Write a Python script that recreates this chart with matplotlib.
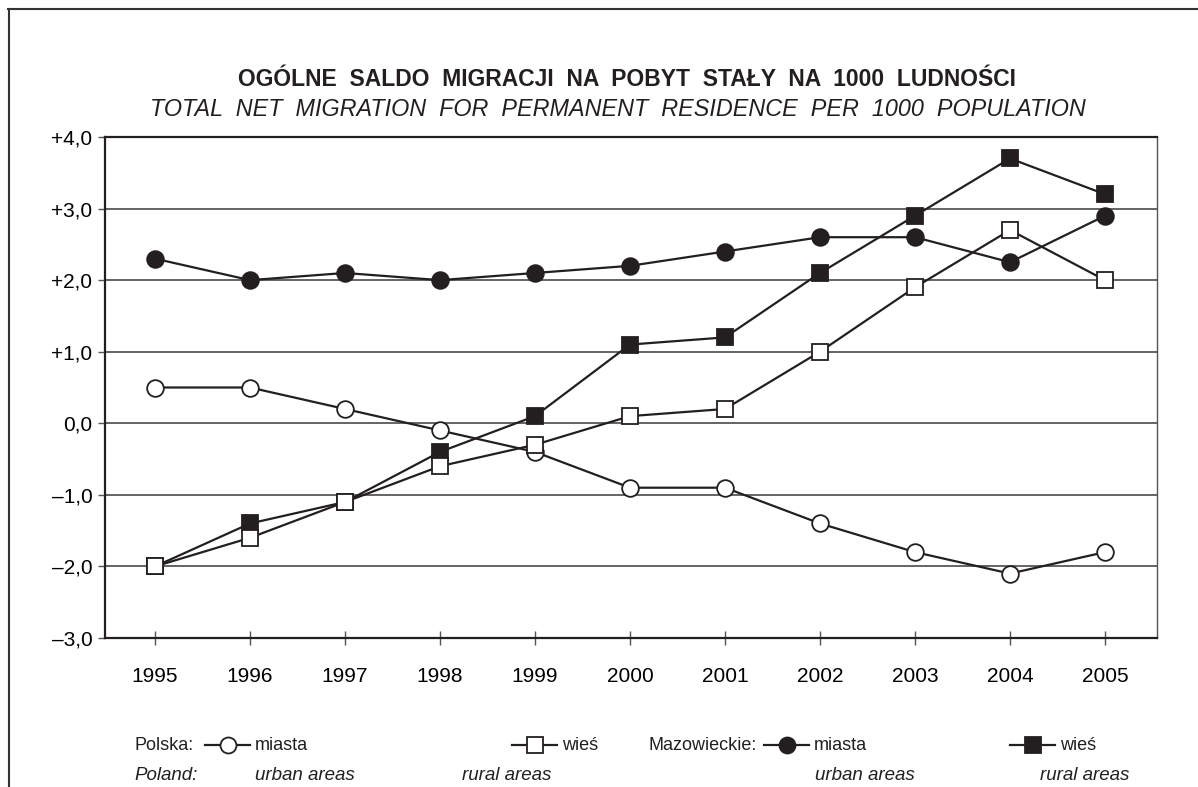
import matplotlib
matplotlib.use("Agg")
import matplotlib.pyplot as plt
from matplotlib.lines import Line2D

plt.rcParams['font.family'] = ['Liberation Sans', 'DejaVu Sans']

years = [1995, 1996, 1997, 1998, 1999, 2000, 2001, 2002, 2003, 2004, 2005]
polska_miasta = [0.5, 0.5, 0.2, -0.1, -0.4, -0.9, -0.9, -1.4, -1.8, -2.1, -1.8]
polska_wies = [-2.0, -1.6, -1.1, -0.6, -0.3, 0.1, 0.2, 1.0, 1.9, 2.7, 2.0]
mazow_miasta = [2.3, 2.0, 2.1, 2.0, 2.1, 2.2, 2.4, 2.6, 2.6, 2.25, 2.9]
mazow_wies = [-2.0, -1.4, -1.1, -0.4, 0.1, 1.1, 1.2, 2.1, 2.9, 3.7, 3.2]
y_ticks = [-3, -2, -1, 0, 1, 2, 3, 4]
y_labels = ['\u20133,0', '\u20132,0', '\u20131,0', '0,0', '+1,0', '+2,0', '+3,0', '+4,0']

ink = '#231f20'
W, H = 1198, 787

fig = plt.figure(figsize=(W / 100, H / 100), dpi=100)
ax = fig.add_axes([105 / W, 1 - 638 / H, (1157 - 105) / W, (638 - 137) / H])

for y in y_ticks[1:-1]:
    ax.axhline(y, color='#4a4a4a', lw=1.2, zorder=1)

line_kw = dict(color=ink, lw=1.6, zorder=3)
ax.plot(years, polska_miasta, marker='o', ms=12, mfc='white', mec=ink, mew=1.3, **line_kw)
ax.plot(years, mazow_miasta, marker='o', ms=12, mfc=ink, mec=ink, mew=1.3, **line_kw)
ax.plot(years, mazow_wies, marker='s', ms=12, mfc=ink, mec=ink, mew=1.3, **line_kw)
ax.plot(years, polska_wies, marker='s', ms=12, mfc='white', mec=ink, mew=1.3, **line_kw)

ax.set_xlim(1994.474, 2005.547)
ax.set_ylim(-3, 4)
ax.set_yticks(y_ticks)
ax.set_yticklabels(y_labels, fontsize=15)
ax.set_xticks(years)
ax.set_xticklabels([str(y) for y in years], fontsize=15)
ax.tick_params(axis='y', direction='out', length=5, width=1, color='#555555', pad=4)
ax.tick_params(axis='x', direction='inout', length=10, width=1, color='#555555', pad=16)

for side in ['left', 'bottom', 'top']:
    ax.spines[side].set_linewidth(1.6)
    ax.spines[side].set_color(ink)
ax.spines['right'].set_linewidth(1.0)
ax.spines['right'].set_color('#555555')

fig.text(0.523, 1 - 80 / H, 'OG\u00d3LNE  SALDO  MIGRACJI  NA  POBYT  STA\u0141Y  NA  1000  LUDNO\u015aCI',
         ha='center', va='center', fontsize=16.5, fontweight='bold', color=ink)
fig.text(0.516, 1 - 109 / H, 'TOTAL  NET  MIGRATION  FOR  PERMANENT  RESIDENCE  PER  1000  POPULATION',
         ha='center', va='center', fontsize=16.8, style='italic', color=ink)

# outer frame (top and left only)
fig.add_artist(Line2D([8 / W, 1], [1 - 9 / H, 1 - 9 / H], color='#333333', lw=1.5))
fig.add_artist(Line2D([9 / W, 9 / W], [0, 1 - 9 / H], color='#333333', lw=1.5))

# legend, drawn in pixel coordinates on an overlay axes
lg = fig.add_axes([0, 0, 1, 1], facecolor='none')
lg.set_xlim(0, W)
lg.set_ylim(H, 0)
lg.axis('off')

row1, row2 = 745, 775
legend_items = [
    (205, 'o', 'white', 'miasta', 'urban areas', 255),
    (512, 's', 'white', 'wie\u015b', 'rural areas', 462),
    (764, 'o', ink, 'miasta', 'urban areas', 815),
    (1010, 's', ink, 'wie\u015b', 'rural areas', 1040),
]
for x0, mk, fc, pl, en, enx in legend_items:
    lg.plot([x0, x0 + 45], [row1, row1], color=ink, lw=1.6)
    lg.plot([x0 + 22.5], [row1], marker=mk, ms=11.5, mfc=fc, mec=ink, mew=1.3, color=ink)
    lg.text(x0 + 50, row1, pl, ha='left', va='center', fontsize=13, color=ink)
    lg.text(enx, row2, en, ha='left', va='center', fontsize=13.5, style='italic', color=ink)

lg.text(134, row1, 'Polska:', ha='left', va='center', fontsize=13, color=ink)
lg.text(134, row2, 'Poland:', ha='left', va='center', fontsize=13.5, style='italic', color=ink)
lg.text(648, row1, 'Mazowieckie:', ha='left', va='center', fontsize=13, color=ink)

fig.savefig('out.png', dpi=100)
